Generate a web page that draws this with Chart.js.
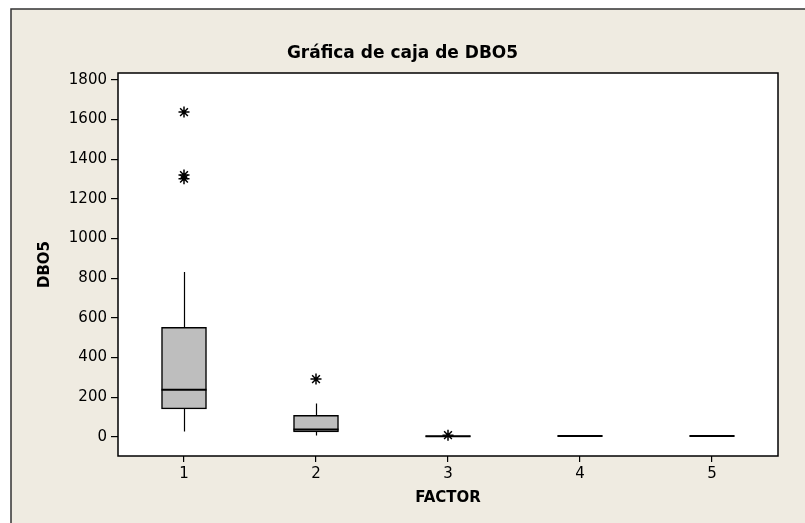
<!DOCTYPE html>
<html>
<head>
<meta charset="utf-8">
<script src="https://cdn.jsdelivr.net/npm/chart.js@4.4.0/dist/chart.umd.min.js"></script>
<style>
  html, body { margin: 0; padding: 0; background: #fff; }
  #wrap { width: 805px; height: 523px; position: relative; }
</style>
</head>
<body>
<div id="wrap"><canvas id="box-chart"></canvas></div>
<script>
// ------------------------------------------------------------
// Box plot of DBO5 by FACTOR
// ------------------------------------------------------------
var factors      = ['1', '2', '3', '4', '5'];
var q1Vals       = [141, 25, 2, 3, 3];
var medianVals   = [237, 37, 3, 4, 4];
var q3Vals       = [552, 108, 5, 5, 5];
var whiskerLow   = [27, 7, 1, 3, 3];
var whiskerHigh  = [831, 168, 6, 5, 5];
var outlierCats  = ['1', '1', '1', '2', '3'];
var outlierVals  = [1638, 1320, 1302, 291, 8];
var yTicks       = [0, 200, 400, 600, 800, 1000, 1200, 1400, 1600, 1800];

var BEIGE = '#EFEBE1';
var FONT = '"DejaVu Sans", sans-serif';

var boxParts = {
  id: 'boxParts',
  beforeDraw: function(chart) {
    var c = chart.ctx, a = chart.chartArea;
    c.save();
    c.fillStyle = '#fff';
    c.fillRect(0, 0, chart.width, chart.height);
    c.fillStyle = BEIGE;
    c.fillRect(11, 9, chart.width, chart.height);
    c.strokeStyle = '#333';
    c.lineWidth = 1.5;
    c.beginPath();
    c.moveTo(11, chart.height + 2);
    c.lineTo(11, 9);
    c.lineTo(chart.width + 2, 9);
    c.stroke();
    c.fillStyle = '#fff';
    c.fillRect(a.left, a.top, a.right - a.left, a.bottom - a.top);
    c.restore();
  },
  beforeDatasetsDraw: function(chart) {
    // whiskers, behind the boxes
    var c = chart.ctx, xs = chart.scales.x, ys = chart.scales.y;
    c.save();
    c.strokeStyle = '#000';
    c.lineWidth = 1.2;
    factors.forEach(function(f, i) {
      var px = Math.round(xs.getPixelForValue(i)) + 0.5;
      c.beginPath();
      c.moveTo(px, ys.getPixelForValue(whiskerLow[i]));
      c.lineTo(px, ys.getPixelForValue(q1Vals[i]));
      c.moveTo(px, ys.getPixelForValue(q3Vals[i]));
      c.lineTo(px, ys.getPixelForValue(whiskerHigh[i]));
      c.stroke();
    });
    c.restore();
  },
  afterDatasetsDraw: function(chart) {
    // median lines
    var c = chart.ctx, ys = chart.scales.y;
    var meta = chart.getDatasetMeta(0);
    c.save();
    c.strokeStyle = '#000';
    c.lineWidth = 2;
    meta.data.forEach(function(bar, i) {
      var py = ys.getPixelForValue(medianVals[i]);
      c.beginPath();
      c.moveTo(bar.x - bar.width / 2, py);
      c.lineTo(bar.x + bar.width / 2, py);
      c.stroke();
    });
    c.restore();
  },
  afterDraw: function(chart) {
    var c = chart.ctx, a = chart.chartArea;
    c.save();
    c.strokeStyle = '#000';
    c.lineWidth = 1.5;
    c.strokeRect(a.left, a.top, a.right - a.left, a.bottom - a.top);
    c.restore();
  }
};

var ctx = document.getElementById('box-chart').getContext('2d');
var boxChart = new Chart(ctx, {
  type: 'bar',
  data: {
    labels: factors,
    datasets: [
      {
        type: 'bar',
        data: factors.map(function(f, i) { return [q1Vals[i], q3Vals[i]]; }),
        backgroundColor: '#BEBEBE',
        borderColor: '#000',
        borderWidth: 1.5,
        borderSkipped: false,
        barThickness: 45
      },
      {
        type: 'line',
        showLine: false,
        data: outlierCats.map(function(f, i) { return { x: f, y: outlierVals[i] }; }),
        pointStyle: 'star',
        pointRadius: 5.5,
        borderColor: '#000',
        backgroundColor: '#000',
        borderWidth: 1.5
      }
    ]
  },
  options: {
    responsive: true, maintainAspectRatio: false, animation: false,
    layout: { padding: 0 },
    plugins: {
      legend: { display: false },
      tooltip: { enabled: false },
      title: {
        display: true, text: 'Gráfica de caja de DBO5', color: '#000',
        font: { family: FONT, size: 17, weight: 'bold', lineHeight: 1 },
        padding: { top: 45, bottom: 11 }
      }
    },
    scales: {
      x: {
        offset: true,
        grid: { display: true, drawOnChartArea: false, drawTicks: true, tickLength: 6, color: '#000', lineWidth: 1.2, offset: false },
        border: { display: false },
        ticks: { color: '#000', font: { family: FONT, size: 15 }, padding: 3 },
        title: { display: true, text: 'FACTOR', color: '#000', font: { family: FONT, size: 15, weight: 'bold' }, padding: { top: 0, bottom: 16 } },
        afterFit: function(s) { s.height = 67; }
      },
      y: {
        min: -97, max: 1835,
        afterBuildTicks: function(s) { s.ticks = yTicks.map(function(v) { return { value: v }; }); },
        grid: { display: true, drawOnChartArea: false, drawTicks: true, tickLength: 7, color: '#000', lineWidth: 1.2 },
        border: { display: false },
        ticks: { color: '#000', font: { family: FONT, size: 15 }, padding: 4, callback: function(v) { return String(v); } },
        title: { display: true, text: 'DBO5', color: '#000', font: { family: FONT, size: 15, weight: 'bold' }, padding: { top: 36, bottom: 0 } },
        afterFit: function(s) { s.width = 118; }
      },
      // empty right-hand spacer so the title centres on the whole canvas
      yRight: {
        position: 'right', display: true,
        grid: { display: false }, border: { display: false }, ticks: { display: false },
        afterFit: function(s) { s.width = 27; }
      }
    }
  },
  plugins: [boxParts]
});
</script>
</body>
</html>
